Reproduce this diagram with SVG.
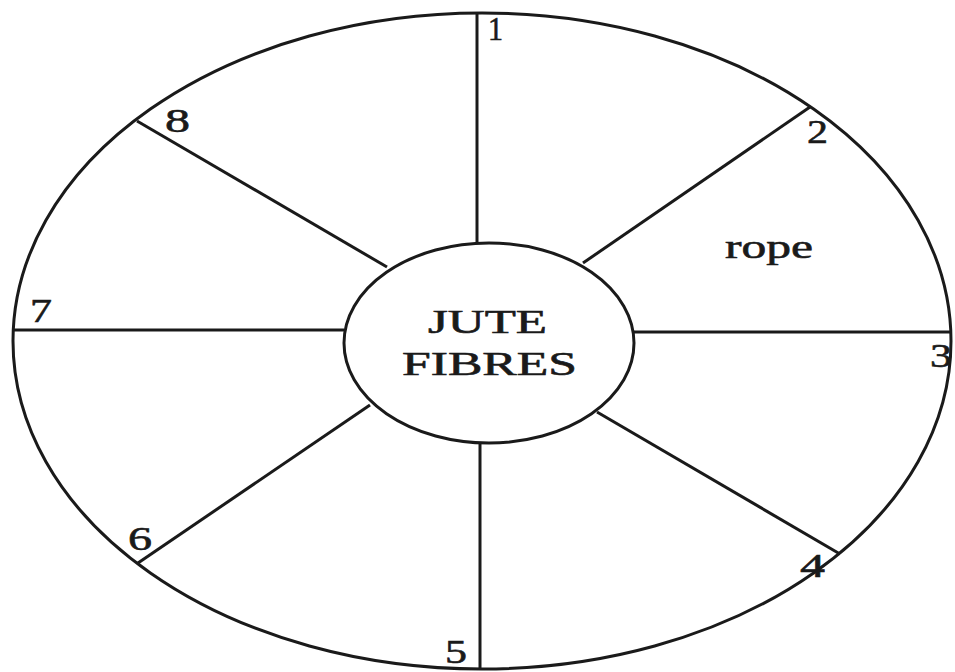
<svg xmlns="http://www.w3.org/2000/svg" width="955" height="672" viewBox="0 0 955 672">
<style>
.ln{stroke:#1a1a1a;stroke-width:3;fill:none}
.t{font-family:"Liberation Serif","Times New Roman",serif;fill:#1a1a1a;stroke:#1a1a1a;stroke-width:0.6}
.num{font-size:34px}
.big{font-size:33px}
</style>
<rect width="955" height="672" fill="#fff"/>
<g id="connectors">
<line class="ln" x1="477" y1="243" x2="477" y2="13"/>
<line class="ln" x1="583" y1="263" x2="810" y2="107"/>
<line class="ln" x1="634" y1="332" x2="951" y2="332"/>
<line class="ln" x1="597" y1="412" x2="840" y2="554"/>
<line class="ln" x1="480" y1="443" x2="480" y2="669"/>
<line class="ln" x1="370" y1="405" x2="138" y2="563"/>
<line class="ln" x1="12" y1="330" x2="344" y2="330"/>
<line class="ln" x1="387" y1="267" x2="137" y2="121"/>
</g>
<g id="outer">
<ellipse class="ln" cx="482" cy="341" rx="469" ry="328"/>
</g>
<g id="center">
<ellipse class="ln" cx="489" cy="343" rx="145" ry="100" fill="#fff"/>
<text class="t big" x="428" y="333" textLength="119" lengthAdjust="spacingAndGlyphs">JUTE</text>
<text class="t big" x="402" y="375" textLength="175" lengthAdjust="spacingAndGlyphs">FIBRES</text>
</g>
<g id="labels">
<text class="t num" x="488" y="40" textLength="15" lengthAdjust="spacingAndGlyphs">1</text>
<text class="t num" x="807" y="143" textLength="21" lengthAdjust="spacingAndGlyphs">2</text>
<text class="t num" x="930" y="367" textLength="22" lengthAdjust="spacingAndGlyphs">3</text>
<text class="t num" x="800" y="577" textLength="25" lengthAdjust="spacingAndGlyphs">4</text>
<text class="t num" x="445" y="663" textLength="22" lengthAdjust="spacingAndGlyphs">5</text>
<text class="t num" x="128" y="550" textLength="24" lengthAdjust="spacingAndGlyphs">6</text>
<text class="t num" x="30" y="322" textLength="22" lengthAdjust="spacingAndGlyphs">7</text>
<text class="t num" x="165" y="132" textLength="25" lengthAdjust="spacingAndGlyphs">8</text>
<text class="t big" x="725" y="258" textLength="88" lengthAdjust="spacingAndGlyphs">rope</text>
</g>
</svg>
